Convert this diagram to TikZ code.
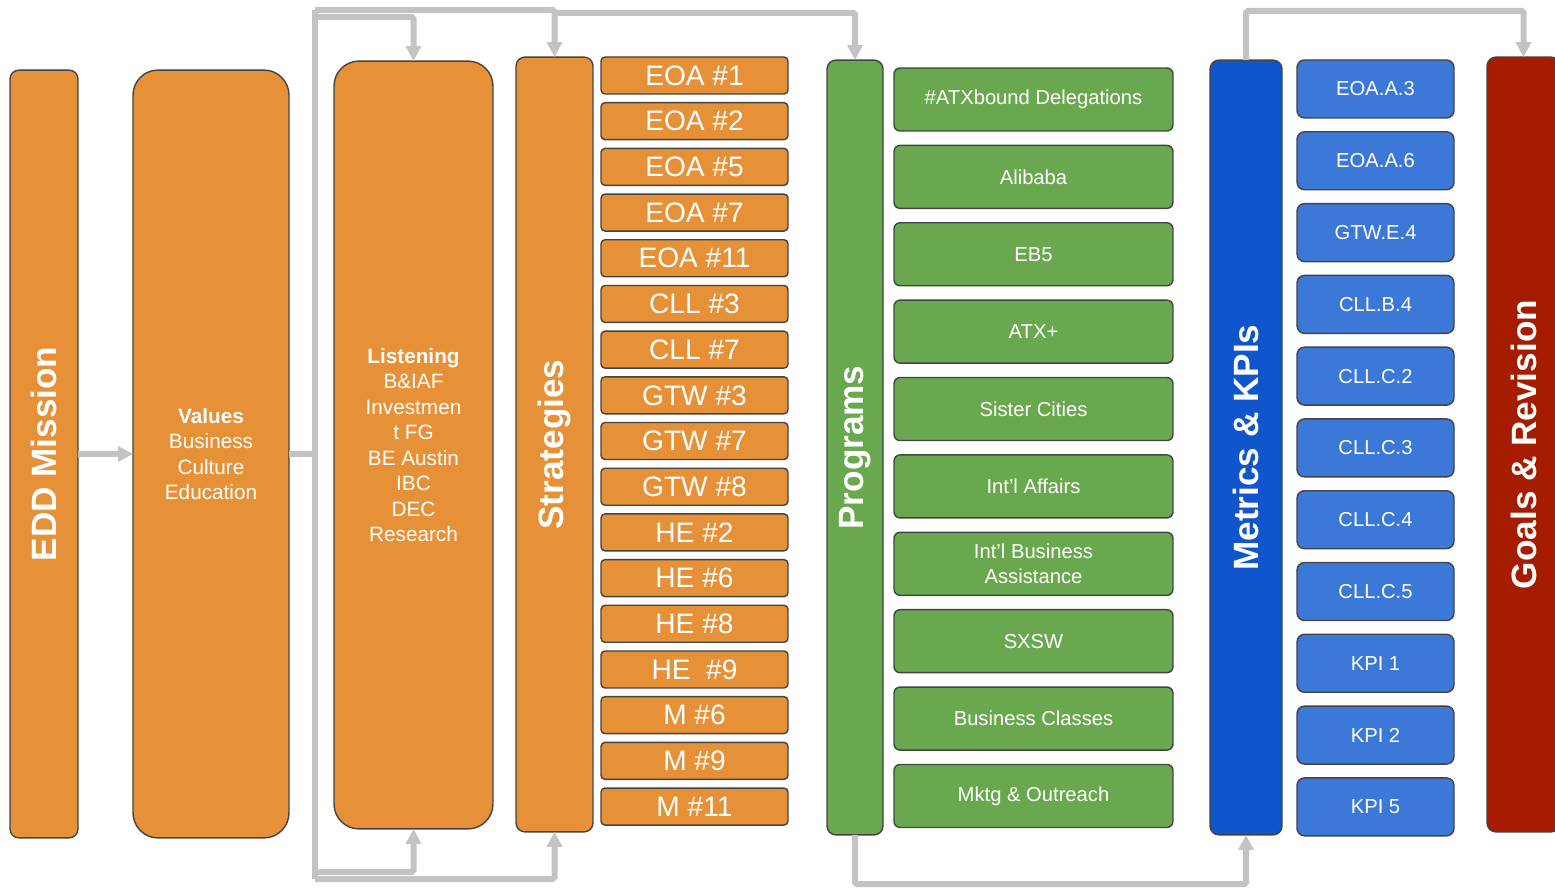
\documentclass[tikz,border=0pt]{standalone}
\usepackage{graphicx}
\usepackage{fontspec}
\setmainfont{Liberation Sans}
\usepackage{tikz}
\usetikzlibrary{positioning, arrows.meta}

\definecolor{boxorange}{HTML}{E69138}
\definecolor{boxgreen}{HTML}{6AA84F}
\definecolor{boxblue}{HTML}{3C78D8}
\definecolor{boxnavy}{HTML}{1155CC}
\definecolor{boxred}{HTML}{A61C00}
\definecolor{boxedge}{HTML}{434343}
\definecolor{linkgray}{HTML}{C3C3C3}

\begin{document}
\begin{tikzpicture}[
    x=0.02cm, y=-0.02cm,
    column/.style={draw=boxedge, line width=0.8pt, text=white, inner sep=0pt,
                   outer sep=0pt, align=center},
    titlecol/.style={column, font=\fontsize{20}{24}\selectfont\bfseries,
                     minimum height=15.5cm, rounded corners=0.18cm},
    textcol/.style={column, font=\fontsize{11.8}{14.5}\selectfont,
                    minimum height=15.36cm, rounded corners=0.5cm},
    stratitem/.style={column, fill=boxorange, font=\fontsize{16}{18}\selectfont,
                      minimum width=3.74cm, minimum height=0.74cm, rounded corners=0.08cm},
    progitem/.style={column, fill=boxgreen, font=\fontsize{11.5}{14.5}\selectfont,
                     minimum width=5.58cm, minimum height=1.26cm, rounded corners=0.12cm},
    metricitem/.style={column, fill=boxblue, font=\fontsize{11.5}{14.5}\selectfont,
                       minimum width=3.14cm, minimum height=1.16cm, rounded corners=0.15cm},
    link/.style={draw=linkgray, line width=0.12cm, rounded corners=1pt},
    tip/.style={-{Triangle[width=0.3cm, length=0.3cm]}}
]
    \useasboundingbox (0,0) rectangle (1555,891);
    \clip (0,0) rectangle (1555,891);

    % ========== Mission, Values, Listening ==========
    \node[titlecol, fill=boxorange, minimum width=1.36cm, minimum height=15.36cm]
        (edd) at (44,454) {\rotatebox{90}{EDD Mission}};
    \node[textcol, fill=boxorange, minimum width=3.12cm] (values) at (211,454) {%
        \textbf{Values}\\
        Business\\
        Culture\\
        Education};
    \node[textcol, fill=boxorange, minimum width=3.18cm] (listen) at (413.5,445) {%
        \textbf{Listening}\\
        B\&IAF\\
        Investmen\\
        t FG\\
        BE Austin\\
        IBC\\
        DEC\\
        Research};

    % ========== Strategies ==========
    \node[titlecol, fill=boxorange, minimum width=1.54cm] (strat) at (554.5,444.5)
        {\rotatebox{90}{Strategies}};
    \node[stratitem] (s1) at (694.5,75.5) {EOA \#1};
    \node[stratitem, below=0.174cm of s1]  (s2)  {EOA \#2};
    \node[stratitem, below=0.174cm of s2]  (s3)  {EOA \#5};
    \node[stratitem, below=0.174cm of s3]  (s4)  {EOA \#7};
    \node[stratitem, below=0.174cm of s4]  (s5)  {EOA \#11};
    \node[stratitem, below=0.174cm of s5]  (s6)  {CLL \#3};
    \node[stratitem, below=0.174cm of s6]  (s7)  {CLL \#7};
    \node[stratitem, below=0.174cm of s7]  (s8)  {GTW \#3};
    \node[stratitem, below=0.174cm of s8]  (s9)  {GTW \#7};
    \node[stratitem, below=0.174cm of s9]  (s10) {GTW \#8};
    \node[stratitem, below=0.174cm of s10] (s11) {HE \#2};
    \node[stratitem, below=0.174cm of s11] (s12) {HE \#6};
    \node[stratitem, below=0.174cm of s12] (s13) {HE \#8};
    \node[stratitem, below=0.174cm of s13] (s14) {HE~~\#9};
    \node[stratitem, below=0.174cm of s14] (s15) {M \#6};
    \node[stratitem, below=0.174cm of s15] (s16) {M \#9};
    \node[stratitem, below=0.174cm of s16] (s17) {M \#11};

    % ========== Programs ==========
    \node[titlecol, fill=boxgreen, minimum width=1.12cm] (programs) at (855,447.5)
        {\rotatebox{90}{Programs}};
    \node[progitem] (p1) at (1033.5,99.5) {\#ATXbound Delegations};
    \node[progitem, below=0.288cm of p1] (p2)  {Alibaba};
    \node[progitem, below=0.288cm of p2] (p3)  {EB5};
    \node[progitem, below=0.288cm of p3] (p4)  {ATX+};
    \node[progitem, below=0.288cm of p4] (p5)  {Sister Cities};
    \node[progitem, below=0.288cm of p5] (p6)  {Int’l Affairs};
    \node[progitem, below=0.288cm of p6] (p7)  {Int’l Business\\ Assistance};
    \node[progitem, below=0.288cm of p7] (p8)  {SXSW};
    \node[progitem, below=0.288cm of p8] (p9)  {Business Classes};
    \node[progitem, below=0.288cm of p9] (p10) {Mktg \& Outreach};

    % ========== Metrics & KPIs ==========
    \node[titlecol, fill=boxnavy, minimum width=1.44cm] (metrics) at (1246,447.5)
        {\rotatebox{90}{Metrics \& KPIs}};
    \node[metricitem] (m1) at (1375.5,89) {EOA.A.3};
    \node[metricitem, below=0.276cm of m1] (m2)  {EOA.A.6};
    \node[metricitem, below=0.276cm of m2] (m3)  {GTW.E.4};
    \node[metricitem, below=0.276cm of m3] (m4)  {CLL.B.4};
    \node[metricitem, below=0.276cm of m4] (m5)  {CLL.C.2};
    \node[metricitem, below=0.276cm of m5] (m6)  {CLL.C.3};
    \node[metricitem, below=0.276cm of m6] (m7)  {CLL.C.4};
    \node[metricitem, below=0.276cm of m7] (m8)  {CLL.C.5};
    \node[metricitem, below=0.276cm of m8] (m9)  {KPI 1};
    \node[metricitem, below=0.276cm of m9] (m10) {KPI 2};
    \node[metricitem, below=0.276cm of m10] (m11) {KPI 5};

    % ========== Goals & Revision ==========
    \node[titlecol, fill=boxred, minimum width=1.46cm] (goals) at (1523.5,444.5)
        {\rotatebox{90}{Goals \& Revision}};

    % --- Connectors ---
    \coordinate (bustop)  at (315,10);
    \coordinate (busbot)  at (315,879);
    \coordinate (listop)  at (315,17);
    \coordinate (lisbot)  at (315,872);
    \coordinate (progtop) at (554,13);
    \coordinate (progbot) at (855,884);
    \coordinate (goaltop) at (1246,11);

    % mission feeds values
    \draw[link, tip] (edd.east) -- (values.west);

    % values feed the listening / strategy loop
    \draw[link] (values.east) -- (values.east -| bustop);
    \draw[link] (busbot) -- (bustop);
    \draw[link, tip] (bustop) -| (strat.north);
    \draw[link, tip] (listop) -| (listen.north);
    \draw[link, tip] (busbot) -| (strat.south);
    \draw[link, tip] (lisbot) -| (listen.south);

    % strategies feed programs
    \draw[link, tip] (progtop) -| (programs.north);

    % programs are measured
    \draw[link, tip] (programs.south) -- (progbot) -| (metrics.south);

    % metrics feed goals
    \draw[link, tip] (metrics.north) -- (goaltop) -| (goals.north);
\end{tikzpicture}
\end{document}
